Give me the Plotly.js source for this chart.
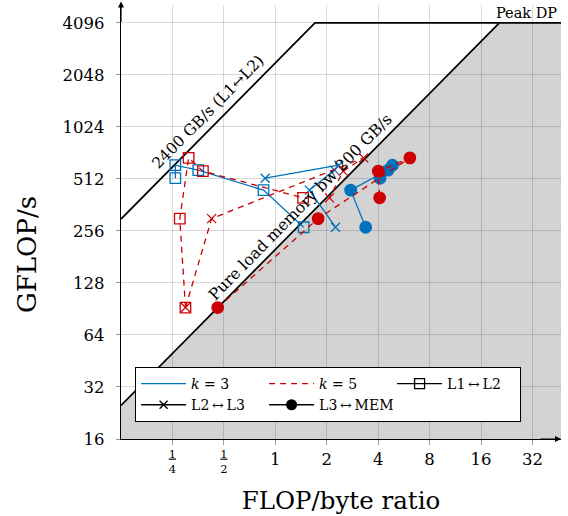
<!DOCTYPE html>
<html><head><meta charset="utf-8">
<script src="https://cdn.plot.ly/plotly-3.0.1.min.js"></script>
<style>body{margin:0;background:#fff}</style>
</head><body><div id="chart" style="width:568px;height:516px"></div>
<script>
// ---- Roofline parameters ----
const peakDP = 4096;      // GFLOP/s
const bwL1L2 = 2400;      // GB/s
const bwMem = 200;        // GB/s
const xLimits = [0.125, 47];
const yLimits = [16, 5200];

// ---- k = 3 (blue), runs in plotted order ----
const k3Gflops  = [517, 615, 576, 441, 269];
const k3L1L2    = [0.260, 0.260, 0.354, 0.853, 1.465];
const k3L2L3    = [0.872, 2.354, 2.22, 1.583, 2.25];
const k3L3MEM   = [4.10, 4.85, 4.57, 2.76, 3.38];

// ---- k = 5 (red), runs in plotted order ----
const k5Gflops  = [92.2, 301.8, 678, 568, 398];
const k5L1L2    = [0.298, 0.276, 0.311, 0.377, 1.454];
const k5L2L3    = [0.298, 0.424, 3.29, 2.498, 2.075];
const k5L3MEM   = [0.460, 1.781, 6.13, 4.01, 4.08];

// ---- ticks ----
const xTickVals = [0.25, 0.5, 1, 2, 4, 8, 16, 32];
const xTickLabels = ['1/4', '1/2', '1', '2', '4', '8', '16', '32'];
const yTickVals = [16, 32, 64, 128, 256, 512, 1024, 2048, 4096];
const yTickLabels = ['16', '32', '64', '128', '256', '512', '1024', '2048', '4096'];

const FONT = 'DejaVu Serif';
const BLUE = '#0072bd';
const RED = '#cc0000';
const L = Math.log10;

function fmtX(s) {
  if (s.includes('/')) {
    const [n, d] = s.split('/');
    return "<span style='font-size:11.5px;baseline-shift:7px;text-decoration:underline'>" + n +
      "</span><br><span style='font-size:11.5px;baseline-shift:7px'>" + d + "</span>";
  }
  return "<span style='font-size:16.5px'>" + s + "</span>";
}

const traces = [];
// rooflines
traces.push({x: [xLimits[0], peakDP / bwL1L2, xLimits[1]], y: [bwL1L2 * xLimits[0], peakDP, peakDP],
  mode: 'lines', line: {color: 'black', width: 1.7}, showlegend: false, hoverinfo: 'skip'});
traces.push({x: [xLimits[0], peakDP / bwMem], y: [bwMem * xLimits[0], peakDP],
  mode: 'lines', line: {color: 'black', width: 1.7}, showlegend: false, hoverinfo: 'skip'});

const mk = {
  sq: {symbol: 'square-open', size: 10.5},
  x:  {symbol: 'x-thin-open', size: 9},
  c:  {symbol: 'circle', size: 11.5}
};
function series(xs, ys, color, dash, m) {
  const marker = Object.assign({color: color, line: {color: color, width: 1.3}}, m);
  return {x: xs, y: ys, mode: 'lines+markers', line: {color: color, width: 1.3, dash: dash},
    marker: marker, showlegend: false};
}
traces.push(series(k3L1L2, k3Gflops, BLUE, 'solid', mk.sq));
traces.push(series(k3L2L3, k3Gflops, BLUE, 'solid', mk.x));
traces.push(series(k3L3MEM, k3Gflops, BLUE, 'solid', mk.c));
traces.push(series(k5L1L2, k5Gflops, RED, '6px,5px', mk.sq));
traces.push(series(k5L2L3, k5Gflops, RED, '6px,5px', mk.x));
traces.push(series(k5L3MEM, k5Gflops, RED, '6px,5px', mk.c));

// legend entries
const TS = '\u2009';
traces.push({x: [null], y: [null], mode: 'lines', name: '<i>k</i> = 3', line: {color: BLUE, width: 1.3}});
traces.push({x: [null], y: [null], mode: 'lines', name: '<i>k</i> = 5', line: {color: RED, width: 1.3, dash: '6px,5px'}});
traces.push({x: [null], y: [null], mode: 'lines+markers', name: 'L1' + TS + '↔' + TS + 'L2', line: {color: 'black', width: 1.3},
  marker: {symbol: 'square-open', size: 10, color: 'black', line: {color: 'black', width: 1.3}}});
traces.push({x: [null], y: [null], mode: 'lines+markers', name: 'L2' + TS + '↔' + TS + 'L3', line: {color: 'black', width: 1.3},
  marker: {symbol: 'x-thin-open', size: 8, color: 'black', line: {color: 'black', width: 1.3}}});
traces.push({x: [null], y: [null], mode: 'lines+markers', name: 'L3' + TS + '↔' + TS + 'MEM', line: {color: 'black', width: 1.3},
  marker: {symbol: 'circle', size: 11, color: 'black'}});

// shaded memory-bound region (from the roofline parameters)
const kneeMem = peakDP / bwMem;
const fillPath = 'M' + xLimits[0] + ',' + (bwMem * xLimits[0]) +
  ' L' + kneeMem + ',' + peakDP +
  ' L' + (xLimits[1] * 2) + ',' + peakDP +
  ' L' + (xLimits[1] * 2) + ',' + (yLimits[0] / 2) +
  ' L' + xLimits[0] + ',' + (yLimits[0] / 2) + ' Z';

const l1Pos = 0.459, memPos = 1.581;
const layout = {
  width: 568, height: 516,
  margin: {l: 121, r: 7, t: 5, b: 77},
  paper_bgcolor: 'white', plot_bgcolor: 'white',
  font: {family: FONT, color: 'black'},
  xaxis: {
    type: 'log', range: [L(xLimits[0]), L(xLimits[1])],
    tickvals: xTickVals, ticktext: xTickLabels.map(fmtX),
    tickfont: {family: FONT, size: 12}, ticklabelstandoff: 5,
    showgrid: true, gridcolor: 'rgba(0,0,0,0.15)', gridwidth: 1,
    showline: true, linecolor: 'black', linewidth: 1.2,
    ticks: 'outside', ticklen: 5, tickcolor: '#999', zeroline: false,
    title: {text: 'FLOP/byte ratio', font: {family: FONT, size: 24.5}, standoff: 16},
    automargin: false
  },
  yaxis: {
    type: 'log', range: [L(yLimits[0]), L(yLimits[1])],
    tickvals: yTickVals, ticktext: yTickLabels,
    tickfont: {family: FONT, size: 16.5}, ticklabelstandoff: 8,
    showgrid: true, gridcolor: 'rgba(0,0,0,0.15)', gridwidth: 1,
    showline: true, linecolor: 'black', linewidth: 1.2,
    ticks: 'outside', ticklen: 4, tickcolor: '#999', zeroline: false,
    automargin: false
  },
  shapes: [{type: 'path', path: fillPath, xref: 'x', yref: 'y', fillcolor: '#d3d3d3', line: {width: 0}, layer: 'below'}],
  legend: {
    orientation: 'h', x: 0.032, y: 0.166, xanchor: 'left', yanchor: 'top',
    bgcolor: 'white', bordercolor: 'black', borderwidth: 1,
    font: {family: FONT, size: 14}, itemwidth: 45, entrywidth: 68, entrywidthmode: 'pixels',
    traceorder: 'normal', itemclick: false
  },
  annotations: [
    {xref: 'paper', yref: 'paper', x: -0.2136, y: 0.424, text: 'GFLOP/s', textangle: -90, showarrow: false,
     xanchor: 'center', yanchor: 'middle', font: {family: FONT, size: 26}},
    {xref: 'paper', yref: 'y', x: 0.995, y: L(peakDP), text: 'Peak DP', showarrow: false,
     xanchor: 'right', yanchor: 'bottom', yshift: 0, font: {family: FONT, size: 14.5}},
    {xref: 'x', yref: 'y', x: L(l1Pos), y: L(bwL1L2 * l1Pos), text: '2400 GB/s (L1↔L2)', textangle: -45.5,
     showarrow: false, xanchor: 'center', yanchor: 'middle', xshift: -9.6, yshift: 9.6, font: {family: FONT, size: 15.5}},
    {xref: 'x', yref: 'y', x: L(memPos), y: L(bwMem * memPos), text: 'Pure load memory bw 200 GB/s', textangle: -45.5,
     showarrow: false, xanchor: 'center', yanchor: 'middle', xshift: -8.9, yshift: 8.8, font: {family: FONT, size: 15.8}},
    {xref: 'paper', yref: 'paper', x: 0, y: 1.008, ax: 0, ay: 22, text: '', showarrow: true,
     arrowhead: 2, arrowsize: 1, arrowwidth: 1.2, arrowcolor: 'black'},
    {xref: 'paper', yref: 'paper', x: 1.0, y: 0, ax: -22, ay: 0, text: '', showarrow: true,
     arrowhead: 2, arrowsize: 1, arrowwidth: 1.2, arrowcolor: 'black'}
  ]
};

Plotly.newPlot('chart', traces, layout, {displayModeBar: false, staticPlot: true});
</script>
</body></html>
